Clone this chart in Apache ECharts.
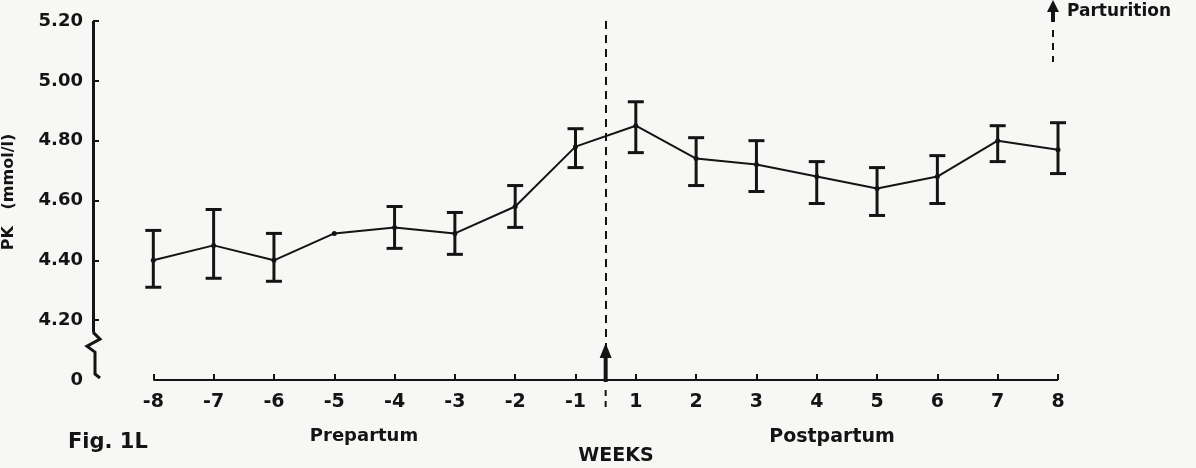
<!DOCTYPE html>
<html><head><meta charset="utf-8">
<script src="https://cdn.jsdelivr.net/npm/echarts@6/dist/echarts.min.js"></script>
<style>html,body{margin:0;padding:0;background:#f7f7f5}#c{width:1196px;height:468px}</style>
</head><body><div id="c"></div>
<script>
// Week labels (categories), evenly spaced; parturition lies between -1 and 1
const weeks = ['-8','-7','-6','-5','-4','-3','-2','-1','1','2','3','4','5','6','7','8'];
// Mean PK (mmol/l)
const means = [4.40, 4.45, 4.40, 4.49, 4.51, 4.49, 4.58, 4.78, 4.85, 4.74, 4.72, 4.68, 4.64, 4.68, 4.80, 4.77];
// Error bar ends (null = no bar drawn)
const upper = [4.50, 4.57, 4.49, null, 4.58, 4.56, 4.65, 4.84, 4.93, 4.81, 4.80, 4.73, 4.71, 4.75, 4.85, 4.86];
const lower = [4.31, 4.34, 4.33, null, 4.44, 4.42, 4.51, 4.71, 4.76, 4.65, 4.63, 4.59, 4.55, 4.59, 4.73, 4.69];
// Y tick values; the bottom one is shown as "0" (broken axis)
const yLabelValues = [4.0, 4.2, 4.4, 4.6, 4.8, 5.0, 5.2];
const yTickValues = [4.2, 4.4, 4.6, 4.8, 5.0, 5.2];

const INK = '#141414';
const FONT = '"DejaVu Sans", "Liberation Sans", Arial, sans-serif';
const chart = echarts.init(document.getElementById('c'), null, {renderer: 'canvas'});
const idx = weeks.map((w, i) => i);

const option = {
  backgroundColor: '#f7f7f5',
  animation: false,
  grid: {left: 93, right: 138, top: 21, bottom: 88, containLabel: false},
  xAxis: {
    type: 'value', min: -1, max: weeks.length - 1,
    axisLine: {show: false, onZero: false},
    splitLine: {show: false},
    axisTick: {show: true, inside: true, length: 6, customValues: idx, lineStyle: {color: INK, width: 2}},
    axisLabel: {
      customValues: idx, margin: 13,
      formatter: v => weeks[Math.round(v)] || '',
      color: INK, fontFamily: FONT, fontWeight: 'bold', fontSize: 19
    }
  },
  yAxis: {
    type: 'value', min: 4.0, max: 5.2,
    axisLine: {show: false, onZero: false},
    splitLine: {show: false},
    axisTick: {show: true, inside: true, length: 6, customValues: yTickValues, lineStyle: {color: INK, width: 2}},
    axisLabel: {
      customValues: yLabelValues, margin: 10,
      formatter: v => (Math.abs(v - 4.0) < 1e-6 ? '0' : v.toFixed(2)),
      color: INK, fontFamily: FONT, fontWeight: 'bold', fontSize: 18
    }
  },
  series: [
    {
      type: 'line',
      data: means.map((m, i) => [i, m]),
      symbol: 'circle', symbolSize: 5,
      itemStyle: {color: INK},
      lineStyle: {color: INK, width: 2},
      z: 3,
      markLine: {
        silent: true, symbol: ['none', 'none'], label: {show: false},
        data: [
          [{coord: [0, 4.0], lineStyle: {color: INK, width: 2, type: 'solid'}}, {coord: [weeks.length - 1, 4.0]}],
          [{coord: [-1, 4.16], lineStyle: {color: INK, width: 3, type: 'solid'}}, {coord: [-1, 5.2]}],
          [{coord: [7.5, 5.2], lineStyle: {color: INK, width: 2, type: [8, 6]}}, {coord: [7.5, 4.0]}]
        ]
      }
    },
    {
      type: 'custom',
      data: idx.filter(i => upper[i] != null).map(i => [i, lower[i], upper[i]]),
      renderItem: function (params, api) {
        const x = api.value(0);
        const lo = api.coord([x, api.value(1)]);
        const hi = api.coord([x, api.value(2)]);
        const w = 8;
        const st = {stroke: INK, lineWidth: 3};
        return {type: 'group', children: [
          {type: 'line', shape: {x1: lo[0], y1: lo[1], x2: hi[0], y2: hi[1]}, style: st},
          {type: 'line', shape: {x1: lo[0] - w, y1: lo[1], x2: lo[0] + w, y2: lo[1]}, style: st},
          {type: 'line', shape: {x1: hi[0] - w, y1: hi[1], x2: hi[0] + w, y2: hi[1]}, style: st}
        ]};
      },
      z: 4
    }
  ]
};
chart.setOption(option);

// Decorations: axis break, parturition arrow, legend and captions
const p = (x, y) => chart.convertToPixel({gridIndex: 0}, [x, y]);
const brk = p(-1, 4.16);
const zero = p(-1, 4.0);
const part = p(7.5, 4.0);
const txt = (x, y, t, size, align) => ({
  type: 'text', x: x, y: y,
  style: {text: t, fill: INK, font: 'bold ' + size + 'px ' + FONT, align: align || 'center', verticalAlign: 'middle'}
});
chart.setOption({
  graphic: [
    {type: 'polyline', shape: {points: [
      [brk[0], brk[1]], [brk[0] + 7, brk[1] + 7], [brk[0] - 6, brk[1] + 14], [brk[0] + 2, brk[1] + 20],
      [brk[0] + 2, zero[1] - 6], [brk[0] + 7, zero[1] - 2]
    ]}, style: {stroke: INK, lineWidth: 3, fill: null}},
    // arrow at parturition on the axis
    {type: 'line', shape: {x1: part[0], y1: part[1] + 2, x2: part[0], y2: part[1] - 26}, style: {stroke: INK, lineWidth: 4}},
    {type: 'polygon', shape: {points: [[part[0] - 6, part[1] - 22], [part[0] + 6, part[1] - 22], [part[0], part[1] - 37]]}, style: {fill: INK}},
    {type: 'line', shape: {x1: part[0], y1: part[1] + 10, x2: part[0], y2: part[1] + 30}, style: {stroke: INK, lineWidth: 2, lineDash: [6, 5]}},
    // y axis title
    {type: 'text', x: 9, y: 192, rotation: Math.PI / 2,
      style: {text: 'PK   (mmol/l)', fill: INK, font: 'bold 16px ' + FONT, align: 'center', verticalAlign: 'middle'}},
    // legend
    {type: 'line', shape: {x1: 1053, y1: 22, x2: 1053, y2: 8}, style: {stroke: INK, lineWidth: 4}},
    {type: 'polygon', shape: {points: [[1047, 12], [1059, 12], [1053, 0]]}, style: {fill: INK}},
    {type: 'line', shape: {x1: 1053, y1: 30, x2: 1053, y2: 62}, style: {stroke: INK, lineWidth: 2, lineDash: [7, 6]}},
    txt(1067, 12, 'Parturition', 17, 'left'),
    // captions
    txt(364, 436, 'Prepartum', 18),
    txt(832, 437, 'Postpartum', 19),
    txt(616, 456, 'WEEKS', 19),
    txt(68, 443, 'Fig. 1L', 21, 'left')
  ]
});
</script>
</body></html>
